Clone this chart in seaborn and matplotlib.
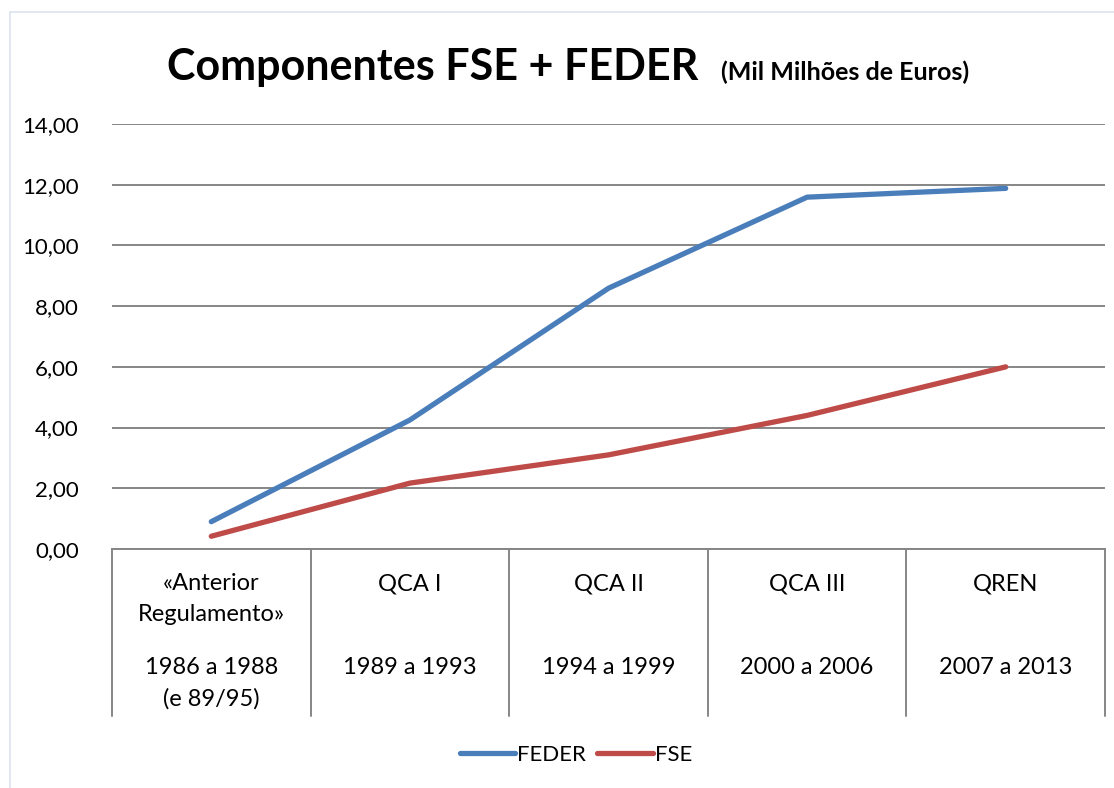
import matplotlib.pyplot as plt
import seaborn as sns
import pandas as pd
from matplotlib.lines import Line2D

# dados (mil milhões de euros)
periodos_nome = ['«Anterior\nRegulamento»', 'QCA I', 'QCA II', 'QCA III', 'QREN']
periodos_anos = ['1986 a 1988\n(e 89/95)', '1989 a 1993', '1994 a 1999', '2000 a 2006', '2007 a 2013']
feder = [0.90, 4.25, 8.59, 11.59, 11.88]
fse = [0.42, 2.17, 3.10, 4.40, 6.00]
yticks = [0, 2, 4, 6, 8, 10, 12, 14]

n = len(periodos_nome)
df = pd.DataFrame({
    'pos': list(range(n)) * 2,
    'valor': feder + fse,
    'serie': ['FEDER'] * n + ['FSE'] * n,
})

sns.set_style('white')
plt.rcParams['font.family'] = ['Lato', 'DejaVu Sans']
plt.rcParams['text.color'] = 'black'
plt.rcParams['ytick.color'] = 'black'

fig = plt.figure(figsize=(11.14, 7.88), dpi=100)
ax = fig.add_axes([112 / 1114, 1 - 549 / 788, (1105 - 112) / 1114, (549 - 124) / 788])

sns.lineplot(data=df, x='pos', y='valor', hue='serie', sort=False,
             palette={'FEDER': '#4A7EBB', 'FSE': '#BE4B48'},
             linewidth=3.8, ax=ax)
for ln in ax.get_lines():
    ln.set_solid_capstyle('round')
    ln.set_solid_joinstyle('round')

ax.set_xlim(-0.5, n - 0.5)
ax.set_ylim(0, 14)
ax.set_yticks(yticks)
ax.set_yticklabels([f'{v:.2f}'.replace('.', ',') for v in yticks], fontsize=16)
ax.tick_params(axis='y', length=0, pad=24)
ax.set_xticks([])
ax.set_xlabel('')
ax.set_ylabel('')
ax.yaxis.grid(True, color='#868686', linewidth=1.4)
ax.set_axisbelow(True)
for s in ['top', 'right', 'left']:
    ax.spines[s].set_visible(False)
ax.spines['bottom'].set_color('#868686')
ax.spines['bottom'].set_linewidth(1.4)

# eixo de categorias em dois níveis
trans = ax.get_xaxis_transform()
for i in range(n + 1):
    ax.add_line(Line2D([i - 0.5, i - 0.5], [0, -(716 - 549) / 425], transform=trans,
                       color='#868686', linewidth=1.4, clip_on=False))
for i in range(n):
    ax.text(i, -(573 - 549) / 425, periodos_nome[i], transform=trans, ha='center', va='top',
            fontsize=17, linespacing=1.6)
    ax.text(i, -(657 - 549) / 425, periodos_anos[i], transform=trans, ha='center', va='top',
            fontsize=17, linespacing=1.6)

sns.move_legend(ax, 'center', bbox_to_anchor=((576 - 112) / 993, -(755 - 549) / 425),
                ncol=2, frameon=False, title=None, fontsize=16,
                handlelength=2.5, handletextpad=0.1, columnspacing=0.5)

# título
t1 = fig.text(167 / 1114, 1 - 80 / 788, 'Componentes FSE + FEDER', fontsize=31,
              fontweight='bold', ha='left', va='baseline')
fig.canvas.draw()
bb = t1.get_window_extent()
fig.text((bb.x1 + 23) / 1114, 1 - 80 / 788, '(Mil Milhões de Euros)', fontsize=18,
         fontweight='bold', ha='left', va='baseline')

# moldura
fig.add_artist(Line2D([10 / 1114, 1], [1 - 12 / 788, 1 - 12 / 788], transform=fig.transFigure,
                      color='#dbe3ee', linewidth=1.2))
fig.add_artist(Line2D([10 / 1114, 10 / 1114], [0, 1 - 12 / 788], transform=fig.transFigure,
                      color='#dbe3ee', linewidth=1.2))

fig.savefig('out.png', dpi=100)
